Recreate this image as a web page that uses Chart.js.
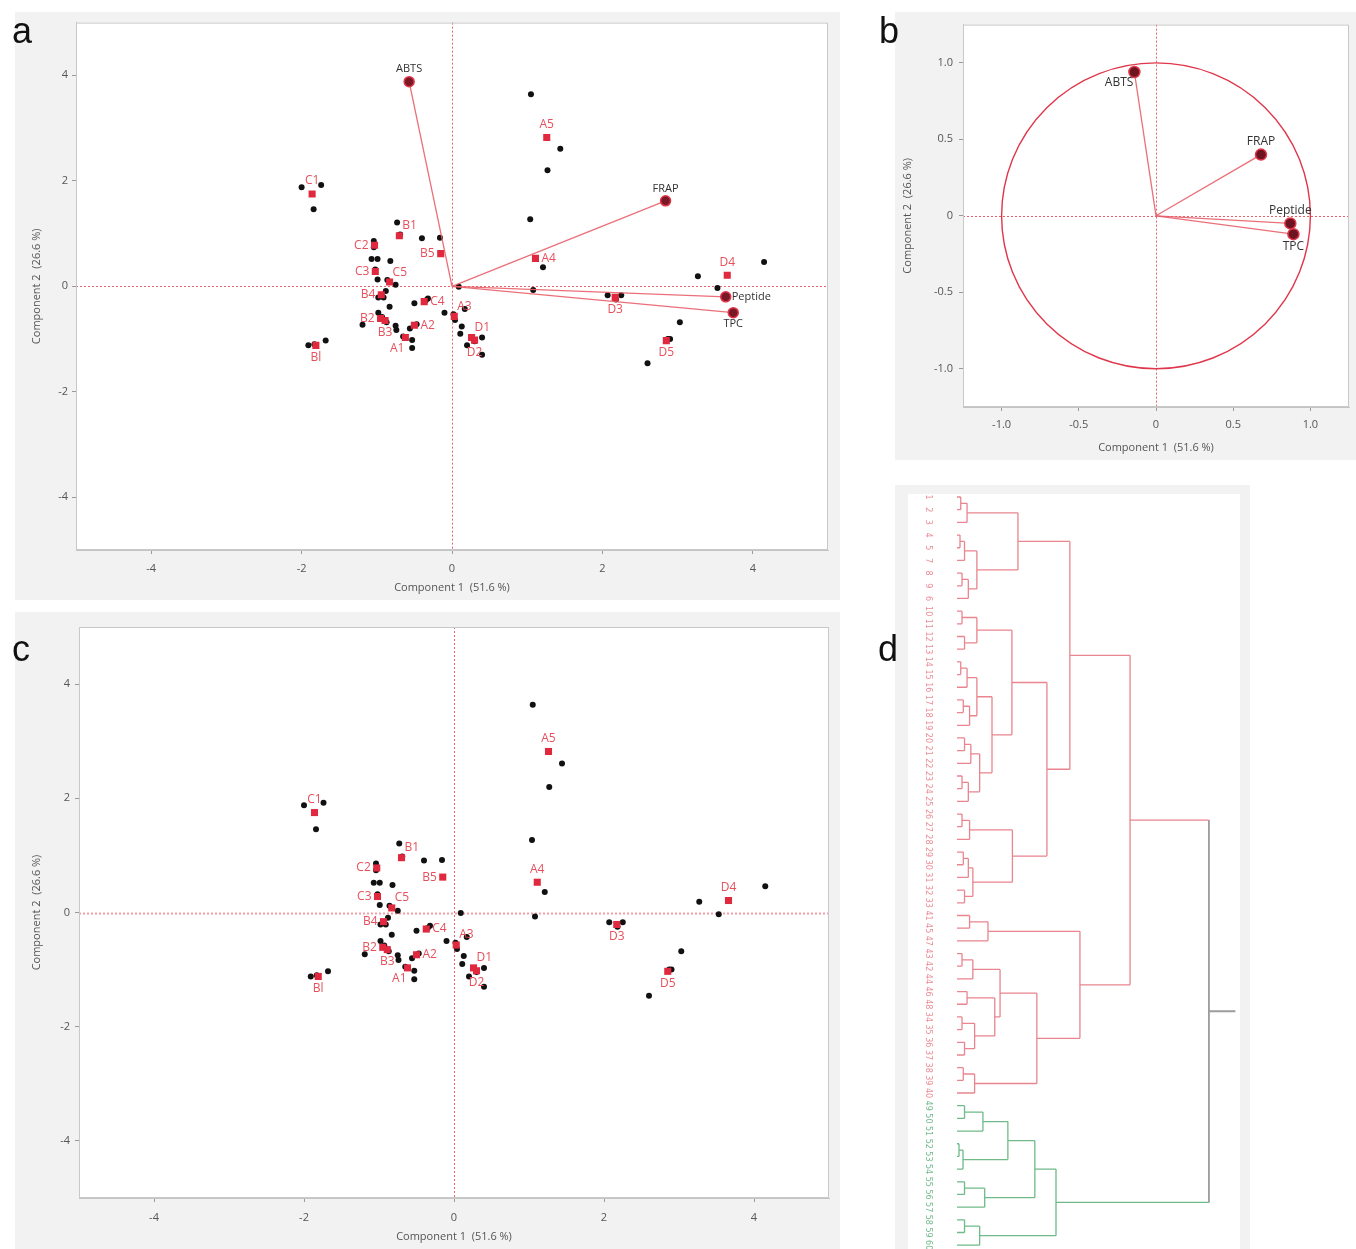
<!DOCTYPE html>
<html><head><meta charset="utf-8">
<script src="https://cdn.jsdelivr.net/npm/chart.js@4/dist/chart.umd.min.js"></script>
<style>
body{margin:0;background:#fff;width:1356px;height:1249px;position:relative;overflow:hidden;font-family:"Liberation Sans",Arial,sans-serif;}
.frame{position:absolute;background:#f2f2f2;}
canvas{position:absolute;}
.letter{position:absolute;font-size:36px;line-height:36px;color:#111;}
</style></head><body>
<div class="frame" style="left:15px;top:12px;width:825px;height:588px"></div>
<div class="frame" style="left:895px;top:12px;width:461px;height:448px"></div>
<div class="frame" style="left:15px;top:612px;width:825px;height:637px"></div>
<div class="frame" style="left:895px;top:485px;width:355px;height:764px"></div>
<div style="position:absolute;left:908px;top:494px;width:332px;height:755px;background:#fff"></div>
<canvas id="ca" width="825" height="588" style="left:15px;top:12px"></canvas>
<canvas id="cb" width="461" height="448" style="left:895px;top:12px"></canvas>
<canvas id="cc" width="825" height="637" style="left:15px;top:612px"></canvas>
<canvas id="cd" width="355" height="762" style="left:895px;top:487px"></canvas>
<div class="letter" style="left:12px;top:13px">a</div>
<div class="letter" style="left:879px;top:13px">b</div>
<div class="letter" style="left:12px;top:631px">c</div>
<div class="letter" style="left:878px;top:631px">d</div>
<script>
// ---------- DATA ----------
const scoreTicks = [-4, -2, 0, 2, 4];
const loadTicks = [-1, -0.5, 0, 0.5, 1];
const axisTitleX = 'Component 1  (51.6 %)';
const axisTitleY = 'Component 2  (26.6 %)';

// replicate scores (black dots)
const blackX = [-2.00,-1.74,-1.84,-0.73,-0.40,-0.16,-1.04,-1.04,-1.07,-0.99,-0.82,-0.99,-0.75,-0.88,-0.98,-0.91,-0.83,-1.19,-0.98,-0.75,-0.74,-0.56,-0.65,-0.53,-0.53,-0.50,-0.32,-0.10,0.09,0.17,0.04,0.13,0.11,0.20,0.40,0.40,-1.91,-1.68,1.05,1.44,1.27,1.04,1.21,1.08,2.07,2.25,3.27,3.53,4.15,3.03,2.90,2.60,-1.02,-0.86,-0.93,-0.87,-0.47,-0.35,0.02,0.30,2.18,2.87,-1.83,-0.69];
const blackY = [1.88,1.92,1.46,1.21,0.91,0.92,0.86,0.74,0.52,0.52,0.48,0.13,0.03,-0.09,-0.21,-0.21,-0.39,-0.73,-0.50,-0.75,-0.83,-0.80,-0.95,-1.02,-1.17,-0.32,-0.23,-0.50,-0.01,-0.43,-0.64,-0.76,-0.90,-1.12,-0.97,-1.30,-1.12,-1.03,3.64,2.61,2.20,1.27,0.36,-0.07,-0.17,-0.17,0.19,-0.03,0.46,-0.68,-1.00,-1.46,0.32,0.12,-0.58,-0.68,-0.72,-0.27,-0.53,-1.04,-0.25,-1.00,-1.10,0.98];

// sample means (red squares)
const meanLabels = ['C1','B1','C2','B5','C3','C5','B4','B2','B3','A1','A2','C4','A3','D1','D2','Bl','A5','A4','D3','D4','D5'];
const meanX = [-1.86,-0.70,-1.03,-0.15,-1.02,-0.83,-0.94,-0.95,-0.89,-0.62,-0.50,-0.37,0.03,0.26,0.30,-1.81,1.26,1.11,2.17,3.66,2.85];
const meanY = [1.75,0.96,0.78,0.62,0.28,0.08,-0.16,-0.61,-0.65,-0.97,-0.74,-0.29,-0.57,-0.97,-1.02,-1.12,2.82,0.53,-0.21,0.21,-1.03];
const meanLabelPosA = ['top','tr','left','left','left','tr','left','left','bottom','bl','right','right','tr','tr','bottom','bottom','top','right','bottom','top','bottom'];
const meanLabelPosC = ['top','tr','left','left','left','tr','left','left','bottom','bl','right','right','tr','tr','bottom','bottom','top','top','bottom','top','bottom'];

// variables
const varNames = ['ABTS','FRAP','Peptide','TPC'];
const biplotX = [-0.57, 2.84, 3.64, 3.74];
const biplotY = [3.88, 1.62, -0.20, -0.50];
const biplotLabelPos = ['top','top','right','bottom'];
const loadX = [-0.14, 0.68, 0.87, 0.89];
const loadY = [0.94, 0.40, -0.05, -0.12];
const loadLabelPos = ['bl','top','top','bottom'];

// dendrogram (leaves in display order; linkage: ids >= 60 are merged nodes)
const leafLabels = ['1','2','3','4','5','7','8','9','6','10','11','12','13','14','15','16','17','18','19','20','21','22','23','24','25','26','27','28','29','30','31','32','33','41','45','47','43','42','44','46','48','34','35','36','37','38','39','40','49','50','51','52','53','54','55','56','57','58','59','60'];
const linkA = [0,60,3,62,6,64,63,61,9,11,68,13,71,16,73,72,19,76,22,78,77,75,70,25,83,28,85,31,86,84,82,67,33,92,36,94,39,41,43,97,96,95,45,102,101,93,91,48,107,51,109,108,54,112,111,57,115,114,106];
const linkB = [1,2,4,5,7,8,65,66,10,12,69,14,15,17,18,74,20,21,23,24,79,80,81,26,27,29,30,32,87,88,89,90,34,35,37,38,40,42,44,98,99,100,46,47,103,104,105,49,50,52,53,110,55,56,113,58,59,116,117];
const linkH = [0.15,0.40,0.12,0.30,0.20,0.45,0.79,2.42,0.2,0.3,0.79,0.15,0.4,0.25,0.5,0.79,0.3,0.55,0.2,0.45,0.9,1.39,2.18,0.2,0.5,0.25,0.45,0.3,0.63,2.2,3.57,4.48,0.5,1.23,0.2,0.63,0.4,0.2,0.3,0.7,1.5,1.71,0.25,0.7,3.17,4.88,6.87,0.3,1.03,0.08,0.24,2.02,0.3,1.1,3.09,0.3,0.9,3.93,10];
const clusterRoots = [106, 117];
const clusterNames = ['red', 'green'];

// ---------- STYLE ----------
const FONT = 'Open Sans';
const RED = '#e0283e';
const LABEL_RED = '#e5505c';
const LINE_RED = 'rgba(232,95,105,0.9)';
const OFF = {top:[0,-7,'center','bottom'], bottom:[0,6,'center','top'], left:[-6,0,'right','middle'],
  right:[6,0,'left','middle'], tr:[3,-4,'left','bottom'], bl:[-1,5,'right','top']};

function pts(xs, ys){ return xs.map((x,i)=>({x:x, y:ys[i]})); }

function axis(o){
  return {
    type:'linear', min:o.min, max:o.max,
    afterBuildTicks: s => { s.ticks = o.ticks.map(v => ({value:v})); },
    afterFit: s => { if (o.width != null) s.width = o.width; if (o.height != null) s.height = o.height; },
    grid:{drawOnChartArea:false, drawTicks:true, tickLength:4, color:'#9a9a9a'},
    border:{display:true, color:'#c4c4c4'},
    ticks:{padding:o.pad, color:'#555', font:{family:FONT, size:11}, maxRotation:0, autoSkip:false, callback:o.fmt || (v => String(v))},
    title:{display:true, text:o.title, color:'#555', font:{family:FONT, size:11}, padding:o.tpad}
  };
}

const framePlugin = {
  id:'frame',
  beforeDraw(c){ const a=c.chartArea, x=c.ctx; x.save(); x.fillStyle='#fff'; x.fillRect(a.left,a.top,a.right-a.left,a.bottom-a.top); x.restore(); },
  afterDraw(c){ const a=c.chartArea, x=c.ctx; x.save(); x.strokeStyle='#c8c8c8'; x.lineWidth=1; x.strokeRect(a.left+0.5,a.top+0.5,a.right-a.left-1,a.bottom-a.top-1); x.restore(); }
};
function zeroPlugin(hWidth, hColor){
  return { id:'zero', beforeDatasetsDraw(c){
    const a=c.chartArea, x=c.ctx, px=c.scales.x.getPixelForValue(0), py=c.scales.y.getPixelForValue(0);
    x.save(); x.setLineDash([2,2]);
    x.strokeStyle='rgba(228,70,85,0.85)'; x.lineWidth=1;
    x.beginPath(); x.moveTo(Math.round(px)+0.5,a.top); x.lineTo(Math.round(px)+0.5,a.bottom); x.stroke();
    x.strokeStyle=hColor; x.lineWidth=hWidth;
    x.beginPath(); x.moveTo(a.left,Math.round(py)+0.5); x.lineTo(a.right,Math.round(py)+0.5); x.stroke();
    x.restore(); } };
}
const labelPlugin = {
  id:'labels',
  afterDatasetsDraw(c){
    const x=c.ctx;
    c.data.datasets.forEach((ds,i)=>{
      if(!ds.pointLabels) return;
      const meta=c.getDatasetMeta(i);
      x.save(); x.font=ds.labelFont; x.fillStyle=ds.labelColor;
      ds.pointLabels.forEach((t,j)=>{
        if(!t) return;
        const el=meta.data[j], o=OFF[ds.labelPos[j]];
        x.textAlign=o[2]; x.textBaseline=o[3];
        x.fillText(t, el.x+o[0], el.y+o[1]);
      });
      x.restore();
    });
  }
};

const commonPlugins = {legend:{display:false}, tooltip:{enabled:false}};

function scoreDatasets(labelPos, withVectors){
  const ds = [];
  ds.push({data:pts(meanX,meanY), pointStyle:'rect', pointRadius:5, pointBackgroundColor:RED, pointBorderWidth:0, showLine:false, order:1,
    pointLabels:meanLabels, labelPos:labelPos, labelFont:'12px "'+FONT+'"', labelColor:LABEL_RED});
  ds.push({data:pts(blackX,blackY), pointStyle:'circle', pointRadius:3, pointBackgroundColor:'#111', pointBorderWidth:0, showLine:false, order:3});
  if(withVectors){
    varNames.forEach((n,i)=>{
      ds.push({data:[{x:0,y:0},{x:biplotX[i],y:biplotY[i]}], showLine:true, borderColor:LINE_RED, borderWidth:1.3,
        pointRadius:[0,5], pointBackgroundColor:'#7a1826', pointBorderColor:'#e0364a', pointBorderWidth:1.5, order:0,
        pointLabels:[null,n], labelPos:[null,biplotLabelPos[i]], labelFont:'11px "'+FONT+'"', labelColor:'#333'});
    });
  }
  return ds;
}

// ---------- PANEL A ----------
new Chart(document.getElementById('ca'), {
  type:'scatter',
  data:{datasets:scoreDatasets(meanLabelPosA, true)},
  options:{responsive:false, animation:false, devicePixelRatio:1,
    layout:{padding:{top:10,right:12,left:0,bottom:0}},
    plugins:commonPlugins,
    scales:{
      x:axis({min:-5,max:5,ticks:scoreTicks,height:50,pad:8,title:axisTitleX,tpad:{top:0,bottom:6}}),
      y:axis({min:-5,max:5,ticks:scoreTicks,width:61,pad:4,title:axisTitleY,tpad:{top:15,bottom:0}})
    }},
  plugins:[framePlugin, zeroPlugin(1,'rgba(228,70,85,0.85)'), labelPlugin]
});

// ---------- PANEL C ----------
new Chart(document.getElementById('cc'), {
  type:'scatter',
  data:{datasets:scoreDatasets(meanLabelPosC, false)},
  options:{responsive:false, animation:false, devicePixelRatio:1,
    layout:{padding:{top:15,right:11,left:0,bottom:0}},
    plugins:commonPlugins,
    scales:{
      x:axis({min:-5,max:5,ticks:scoreTicks,height:51,pad:9,title:axisTitleX,tpad:{top:0,bottom:6}}),
      y:axis({min:-5,max:5,ticks:scoreTicks,width:64,pad:5,title:axisTitleY,tpad:{top:15,bottom:0}})
    }},
  plugins:[framePlugin, zeroPlugin(2,'rgba(240,120,135,0.7)'), labelPlugin]
});

// ---------- PANEL B ----------
const circlePlugin = {
  id:'circle',
  beforeDatasetsDraw(c){
    const x=c.ctx, sx=c.scales.x, sy=c.scales.y;
    const cx=sx.getPixelForValue(0), cy=sy.getPixelForValue(0);
    const rx=sx.getPixelForValue(1)-cx, ry=cy-sy.getPixelForValue(1);
    x.save(); x.strokeStyle='#e0364a'; x.lineWidth=1.4;
    x.beginPath(); x.ellipse(cx,cy,rx,ry,0,0,Math.PI*2); x.stroke(); x.restore();
  }
};
const fmtLoad = v => v === 0 ? '0' : v.toFixed(1);
new Chart(document.getElementById('cb'), {
  type:'scatter',
  data:{datasets:varNames.map((n,i)=>({
    data:[{x:0,y:0},{x:loadX[i],y:loadY[i]}], showLine:true, borderColor:LINE_RED, borderWidth:1.3,
    pointRadius:[0,5.5], pointBackgroundColor:'#6e1420', pointBorderColor:'#e0364a', pointBorderWidth:1.5,
    pointLabels:[null,n], labelPos:[null,loadLabelPos[i]], labelFont:'12px "'+FONT+'"', labelColor:'#333'}))},
  options:{responsive:false, animation:false, devicePixelRatio:1,
    layout:{padding:{top:10,right:6,left:0,bottom:0}},
    plugins:commonPlugins,
    scales:{
      x:axis({min:-1.25,max:1.25,ticks:loadTicks,height:53,pad:7,title:axisTitleX,tpad:{top:0,bottom:6},fmt:fmtLoad}),
      y:axis({min:-1.25,max:1.25,ticks:loadTicks,width:68,pad:6,title:axisTitleY,tpad:{top:6,bottom:0},fmt:fmtLoad})
    }},
  plugins:[framePlugin, zeroPlugin(1,'rgba(228,70,85,0.85)'), circlePlugin, labelPlugin]
});

// ---------- PANEL D (dendrogram) ----------
const nLeaf = leafLabels.length;
const nodeY = [], nodeH = [];
for(let i=0;i<nLeaf;i++){ nodeY[i]=i; nodeH[i]=0; }
linkA.forEach((a,k)=>{ const id=nLeaf+k; nodeY[id]=(nodeY[a]+nodeY[linkB[k]])/2; nodeH[id]=linkH[k]; });
const total = nLeaf + linkA.length;
const nodeCol = new Array(total).fill('gray');
for(let k=linkA.length-1;k>=0;k--){
  const id=nLeaf+k;
  [linkA[k], linkB[k]].forEach(ch=>{
    const ci = clusterRoots.indexOf(ch);
    nodeCol[ch] = ci >= 0 ? clusterNames[ci] : nodeCol[id];
  });
}
const segs = {red:[], green:[], gray:[]};
const GAP = {x:null, y:null};
linkA.forEach((a,k)=>{
  const id=nLeaf+k, b=linkB[k], h=nodeH[id];
  segs[nodeCol[id]].push({x:h,y:nodeY[a]},{x:h,y:nodeY[b]},GAP);
  [a,b].forEach(ch=>{ segs[nodeCol[ch]].push({x:nodeH[ch],y:nodeY[ch]},{x:h,y:nodeY[ch]},GAP); });
});
const rootId = total-1;
segs.gray.push({x:nodeH[rootId],y:nodeY[rootId]},{x:nodeH[rootId]+1.05,y:nodeY[rootId]},GAP);
const dendroColors = {red:'#e9858e', green:'#6fba88', gray:'#9c9c9c'};

const leafLabelPlugin = {
  id:'leafLabels',
  afterDatasetsDraw(c){
    const x=c.ctx, sy=c.scales.y, px=c.chartArea.left+33;
    x.save(); x.font='8px "DejaVu Sans"'; x.textAlign='center'; x.textBaseline='middle';
    leafLabels.forEach((t,i)=>{
      x.fillStyle = nodeCol[i]==='green' ? '#72bb8c' : '#ec8c95';
      x.save(); x.translate(px, sy.getPixelForValue(i)); x.rotate(Math.PI/2); x.fillText(t,0,0); x.restore();
    });
    x.restore();
  }
};
new Chart(document.getElementById('cd'), {
  type:'scatter',
  data:{datasets:Object.keys(segs).map(k=>({data:segs[k], showLine:true, spanGaps:false, borderColor:dendroColors[k],
    borderWidth:k==='gray'?1.8:1.3, pointRadius:0}))},
  options:{responsive:false, animation:false, devicePixelRatio:1,
    layout:{padding:0},
    plugins:commonPlugins,
    scales:{
      x:{type:'linear', display:false, min:-2.46, max:11.63},
      y:{type:'linear', display:false, reverse:true, min:-0.79, max:59.3}
    }},
  plugins:[leafLabelPlugin]
});
</script>
</body></html>
